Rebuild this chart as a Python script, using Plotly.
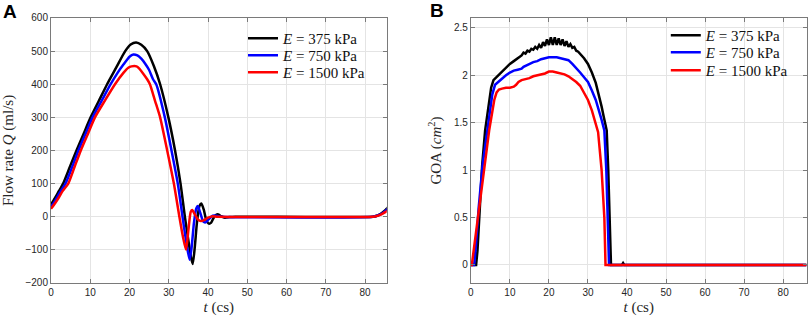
import plotly.graph_objects as go

# ---------------- Panel A : flow rate ----------------
labels = ["<i>E</i> = 375 kPa", "<i>E</i> = 750 kPa", "<i>E</i> = 1500 kPa"]
colors = ["#000000", "#0000ff", "#ff0000"]

tA_375 = [0, 1, 2, 3.1, 4.8, 6.5, 8.3, 10.1, 12.2, 14.3, 16.6, 18.9, 20.3, 21.7, 23, 24.5, 26.2,
          27.8, 29.9, 31.6, 33.0, 34.1, 35.1, 35.7, 36.1, 36.6, 37.2, 37.8, 38.3, 38.9, 39.5, 40.2,
          40.8, 41.4, 42.0, 42.6, 43.3, 44.3, 45.5, 47, 82, 83, 84, 85, 86]
qA_375 = [37, 56, 77, 100, 150, 200, 250, 300, 350, 400, 450, 500, 520, 526, 519, 500, 455,
          400, 300, 200, 100, 0, -80, -125, -143, -95, -15, 32, 40, 22, -8, -21,
          -18, -4, 5, 7, 2, -3, -1, 0, 0, 3, 9, 18, 31]

tA_750 = [0, 1, 2, 3.7, 5.4, 7.0, 8.8, 10.6, 12.9, 15.2, 17, 18.5, 20, 21, 22, 23, 24, 25, 26,
          26.8, 29.0, 30.7, 32.3, 33.5, 34.5, 35.3, 35.8, 36.4, 37.0, 37.4, 38.0, 38.8, 39.4, 40.2,
          41.2, 42.2, 43.5, 82, 83, 84, 85, 86]
qA_750 = [30, 47, 68, 100, 150, 200, 250, 300, 350, 400, 435, 460, 483, 490, 487, 477, 462, 443, 415,
          400, 300, 200, 100, 0, -80, -130, -95, -20, 25, 32, 12, -15, -17, -7,
          3, 3, 0, 0, 3, 8, 16, 27]

tA_1500 = [0, 1, 2, 3, 4.4, 6, 7.6, 9.4, 11.2, 13.7, 16.3, 18.5, 19.7, 20.5, 21.8, 22.5, 23.5, 24.5,
           25.2, 26.5, 27.8, 29.6, 31.3, 32.7, 33.6, 34.4, 35.0, 35.6, 36.0, 36.6, 37.4, 38.2, 39.0,
           40, 41, 42.5, 82, 83, 84, 85, 86]
qA_1500 = [24, 40, 58, 78, 100, 150, 200, 250, 300, 350, 400, 435, 450, 454, 454, 447, 432, 415,
           400, 350, 300, 200, 100, 0, -60, -100, -40, 15, 20, 8, -8, -13, -10,
           -3, 1, 0, 0, 2, 6, 13, 21]

# ---------------- Panel B : GOA ----------------
tB_375 = [0, 1.35, 1.7, 2.2, 2.9, 3.66, 4.0, 4.6, 5.2, 5.8, 6.5, 7, 8, 9, 10, 11, 12, 13,
          13.5, 14.0, 14.5, 15.0, 15.5, 16.0, 16.5, 17.0, 17.5, 18.0, 18.5, 19.0, 19.5, 20.0,
          20.5, 21.0, 21.5, 22.0, 22.5, 23.0, 23.5, 24.0, 24.5, 25.0, 25.5, 26.0, 26.5, 27.0,
          27.5, 28, 29, 30, 31, 32, 33, 33.5, 34, 34.8, 35.2, 35.6, 35.9, 38.7, 39.0, 39.3, 86]
gB_375 = [0, 0, 0.15, 0.55, 1.05, 1.42, 1.52, 1.72, 1.87, 1.95, 1.98, 2.0, 2.04, 2.08, 2.12, 2.15,
          2.18, 2.21, 2.24, 2.23, 2.26, 2.25, 2.28, 2.27, 2.30, 2.28, 2.32, 2.29, 2.35, 2.31, 2.38,
          2.32, 2.40, 2.32, 2.40, 2.32, 2.39, 2.32, 2.38, 2.31, 2.36, 2.30, 2.33, 2.29, 2.30, 2.26,
          2.25, 2.23, 2.18, 2.12, 2.03, 1.92, 1.77, 1.67, 1.57, 1.42, 1.0, 0.45, 0, 0, 0.02, 0, 0]

tB_750 = [0, 0.85, 1.3, 2.0, 3.0, 4.25, 4.8, 5.5, 6.2, 7, 8, 9, 10, 11, 12, 13, 13.5, 14, 15, 16,
          17, 18, 19, 20, 21, 22, 23, 24, 25, 26, 27, 28, 29, 30, 31, 32, 33.5, 34.2, 34.7, 35.1,
          35.4, 86]
gB_750 = [0, 0, 0.2, 0.6, 1.05, 1.45, 1.62, 1.8, 1.9, 1.93, 1.97, 2.0, 2.03, 2.05, 2.06, 2.07, 2.09,
          2.10, 2.12, 2.14, 2.15, 2.17, 2.18, 2.19, 2.19, 2.19, 2.18, 2.17, 2.16, 2.12, 2.08, 2.03,
          1.98, 1.93, 1.84, 1.74, 1.53, 1.42, 1.0, 0.45, 0, 0]

tB_1500 = [0, 0.25, 4.7, 5.3, 6.0, 6.6, 7.2, 8, 9, 10, 11, 11.6, 12.2, 13, 14, 15, 16, 17, 18, 19,
           20, 21, 22, 23, 24, 25, 26, 27, 28, 29, 30, 31, 32, 32.6, 33.5, 34.2, 34.5, 86]
gB_1500 = [0, 0, 1.42, 1.58, 1.74, 1.82, 1.85, 1.86, 1.87, 1.87, 1.88, 1.90, 1.93, 1.95, 1.96, 1.97,
           1.99, 2.00, 2.01, 2.02, 2.04, 2.04, 2.03, 2.02, 2.01, 1.99, 1.96, 1.93, 1.89, 1.82, 1.74,
           1.63, 1.50, 1.40, 1.0, 0.5, 0, 0]

xticks = [0, 10, 20, 30, 40, 50, 60, 70, 80]
yticksA = [-200, -100, 0, 100, 200, 300, 400, 500, 600]
yticksB = [0, 0.5, 1, 1.5, 2, 2.5]
yticktextB = ["0", "0.5", "1", "1.5", "2", "2.5"]

H = 319.0
# legend row positions (pixel centres) for each panel
legA_x, legA_rows = 0.3004, [39, 56, 73]
legB_x, legB_rows = 0.823, [36, 53, 71]
ROW_OFF = 17

fig = go.Figure()
seriesA = [(tA_375, qA_375), (tA_750, qA_750), (tA_1500, qA_1500)]
seriesB = [(tB_375, gB_375), (tB_750, gB_750), (tB_1500, gB_1500)]
legfont = dict(family="Liberation Serif, Times New Roman", size=15, color="#111")
legend_layout = {}
k = 0
for (t, q), lab, c, row in zip(seriesA, labels, colors, legA_rows):
    k += 1
    lname = "legend" if k == 1 else f"legend{k}"
    fig.add_trace(go.Scatter(x=t, y=q, mode="lines", name=lab, showlegend=True,
                             line=dict(color=c, width=2.5, shape="spline", smoothing=0.6),
                             xaxis="x", yaxis="y", legend=lname))
    legend_layout[lname] = dict(x=legA_x, y=1 - (row - ROW_OFF) / H, xanchor="left", yanchor="top",
                                bgcolor="rgba(255,255,255,0)", borderwidth=0, font=legfont,
                                itemwidth=30, visible=True)
for (t, g), lab, c, row in zip(seriesB, labels, colors, legB_rows):
    k += 1
    lname = f"legend{k}"
    fig.add_trace(go.Scatter(x=t, y=g, mode="lines", name=lab, showlegend=True,
                             line=dict(color=c, width=2.5),
                             xaxis="x2", yaxis="y2", legend=lname))
    legend_layout[lname] = dict(x=legB_x, y=1 - (row - ROW_OFF) / H, xanchor="left", yanchor="top",
                                bgcolor="rgba(255,255,255,0)", borderwidth=0, font=legfont,
                                itemwidth=30, visible=True)

tickfont = dict(family="Liberation Sans, Arial", size=10, color="#262626")
titlefont = dict(family="Liberation Serif, Times New Roman", size=15, color="#262626")
axcommon = dict(showline=True, linecolor="#7a7a7a", linewidth=1, mirror="ticks", ticks="inside",
                ticklen=4, tickcolor="#7a7a7a", showgrid=True, gridcolor="#e4e4e4", zeroline=False,
                tickfont=tickfont, automargin=False)

fig.update_layout(
    width=809, height=319, margin=dict(l=0, r=0, t=0, b=0, autoexpand=False),
    plot_bgcolor="white", paper_bgcolor="white", showlegend=True,
    xaxis=dict(domain=[0.063, 0.478], range=[0, 85.5], tickvals=xticks, anchor="y",
               title=dict(text="<i>t</i> (cs)", font=titlefont, standoff=4), **axcommon),
    yaxis=dict(domain=[0.113, 0.9436], range=[-200, 600], tickvals=yticksA, anchor="x",
               title=dict(text="Flow rate <i>Q</i> (ml/s)", font=titlefont, standoff=10), **axcommon),
    xaxis2=dict(domain=[0.582, 0.997], range=[0, 86], tickvals=xticks, anchor="y2",
                title=dict(text="<i>t</i> (cs)", font=titlefont, standoff=4), **axcommon),
    yaxis2=dict(domain=[0.113, 0.9436], range=[-0.19, 2.605], tickvals=yticksB, ticktext=yticktextB,
                anchor="x2", title=dict(text="GOA (<i>cm</i><sup>2</sup>)", font=titlefont, standoff=8),
                **axcommon),
    annotations=[
        dict(text="<b>A</b>", x=9.5 / 809, y=1 - 11.5 / H, xref="paper", yref="paper",
             xanchor="center", yanchor="middle", showarrow=False,
             font=dict(family="Liberation Sans, Arial", size=19, color="black")),
        dict(text="<b>B</b>", x=436.5 / 809, y=1 - 10.5 / H, xref="paper", yref="paper",
             xanchor="center", yanchor="middle", showarrow=False,
             font=dict(family="Liberation Sans, Arial", size=19, color="black")),
    ],
    **legend_layout,
)

fig.write_html("out.html", config={"displayModeBar": False},
               post_script="document.body.style.margin='0px';")
